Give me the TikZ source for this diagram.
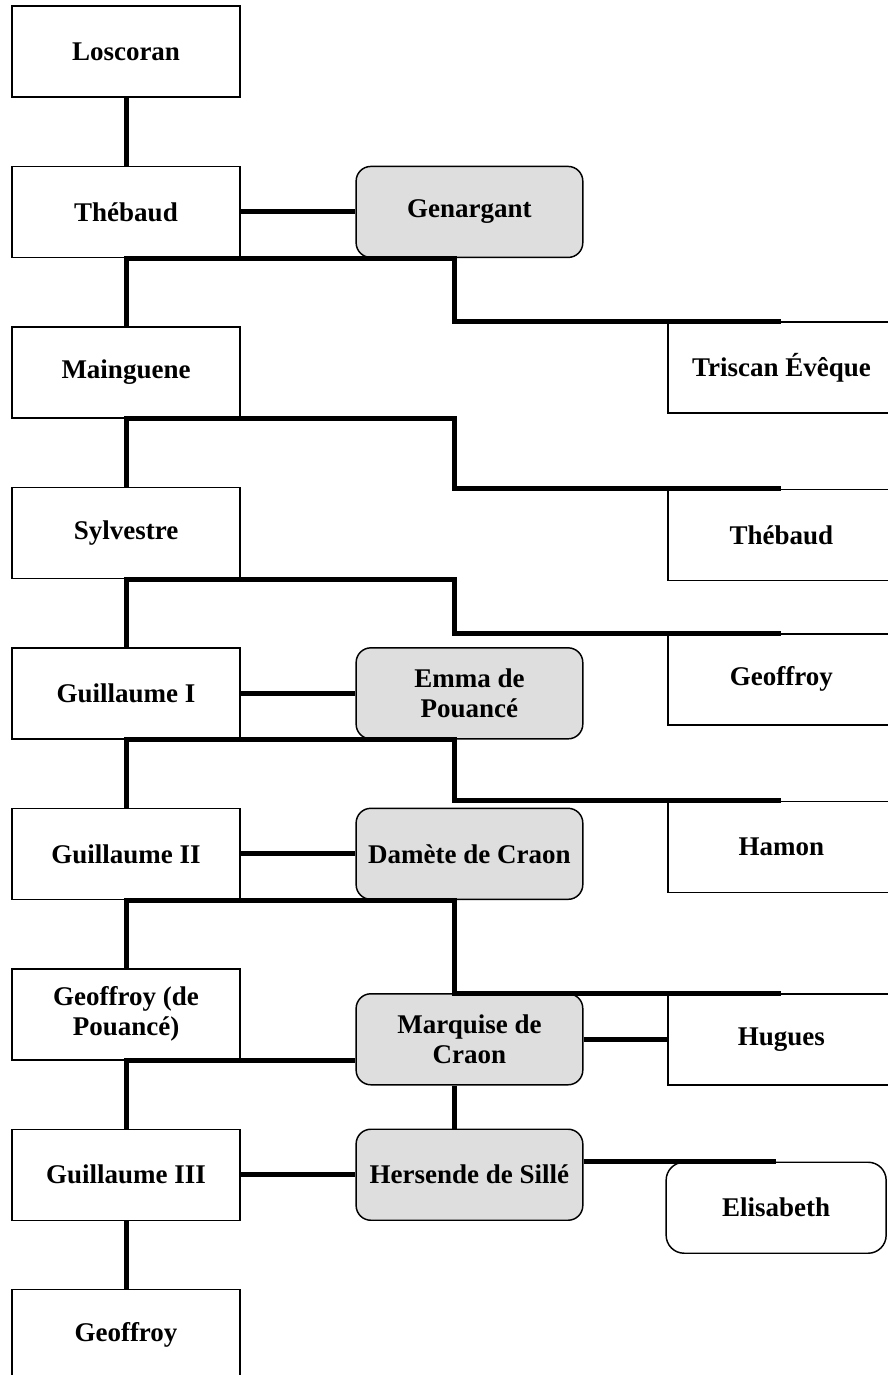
\documentclass[tikz,border=0pt]{standalone}
\usepackage{fontspec}
\setmainfont{Liberation Serif}
\usetikzlibrary{positioning}

\begin{document}
\begin{tikzpicture}[
      node distance=51pt and 86pt,
      person/.style={rectangle, draw, line width=1.1pt, minimum width=171pt, minimum height=68.25pt, inner sep=2pt, align=center, font=\bfseries\fontsize{20.25}{22.5}\selectfont},
      spouse/.style={person, rounded corners=11pt, fill=black!13, minimum width=170pt},
      child/.style={person, minimum width=170pt},
      link/.style={line width=3.75pt}
    ]
    \useasboundingbox (0,0) rectangle (666pt,-1031.25pt);
    \clip (0,0) rectangle (666pt,-1031.25pt);

    \node[person] (loscoran) at (94.5pt,-38.6pt) {Loscoran};
    \node[person, below=of loscoran] (thebaud) {Thébaud};
    \node[person, below=of thebaud] (mainguene) {Mainguene};
    \node[person, below=of mainguene] (sylvestre) {Sylvestre};
    \node[person, below=of sylvestre] (guil1) {Guillaume I};
    \node[person, below=of guil1] (guil2) {Guillaume II};
    \node[person, below=of guil2] (geoffroydp) {Geoffroy (de\\Pouancé)};
    \node[person, below=of geoffroydp] (guil3) {Guillaume III};
    \node[person, below=of guil3] (geoffroy) {Geoffroy};

    \node[spouse, right=of thebaud] (genargant) {Genargant};
    \node[spouse, right=of guil1] (emma) {Emma de\\Pouancé};
    \node[spouse, right=of guil2] (damete) {Damète de Craon};
    \node[spouse, right=of geoffroydp, yshift=-18.75pt] (marquise) {Marquise de\\Craon};
    \node[spouse, right=of guil3] (hersende) {Hersende de Sillé};

    \node[child, right=320pt of mainguene, yshift=3.75pt] (triscan) {Triscan Évêque};
    \node[child, right=320pt of sylvestre, yshift=-1.5pt] (thebaudr) {Thébaud};
    \node[child, right=320pt of guil1, yshift=10.5pt] (geoffroyr) {Geoffroy};
    \node[child, right=320pt of guil2, yshift=5.25pt] (hamon) {Hamon};
    \node[child, right=320pt of geoffroydp, yshift=-18.75pt] (hugues) {Hugues};
    \node[child, right=318.5pt of guil3, yshift=-24.75pt, rounded corners=13.5pt, minimum width=165pt] (elisabeth) {Elisabeth};

    \coordinate (mid) at ([xshift=-11.25pt]genargant.south);

    \draw[link] (loscoran.south) -- (thebaud.north);
    \draw[link] (thebaud.east) -- (genargant.west);
    \draw[link] (mainguene.north) -- (thebaud.south) -- (thebaud.south -| mid) |- (triscan.north);
    \draw[link] (sylvestre.north) -- (mainguene.south) -- (mainguene.south -| mid) |- (thebaudr.north);
    \draw[link] (guil1.north) -- (sylvestre.south) -- (sylvestre.south -| mid) |- (geoffroyr.north);
    \draw[link] (guil1.east) -- (emma.west);
    \draw[link] (guil2.north) -- (guil1.south) -- (guil1.south -| mid) |- (hamon.north);
    \draw[link] (guil2.east) -- (damete.west);
    \draw[link] (geoffroydp.north) -- (guil2.south) -- (guil2.south -| mid) |- (hugues.north);
    \draw[link] (marquise.east) -- (hugues.west);
    \draw[link] (guil3.north) -- (geoffroydp.south) -- (geoffroydp.south -| marquise.west);
    \draw[link] (marquise.south -| mid) -- (hersende.north -| mid);
    \draw[link] (guil3.east) -- (hersende.west);
    \draw[link] (hersende.east |- elisabeth.north) -- (elisabeth.north);
    \draw[link] (guil3.south) -- (geoffroy.north);
  \end{tikzpicture}
\end{document}
